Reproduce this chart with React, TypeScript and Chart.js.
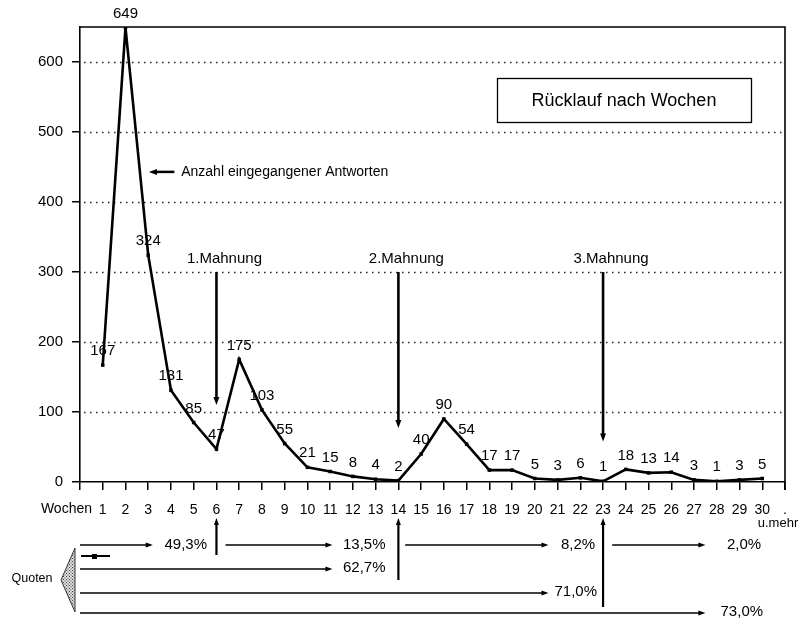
import { useEffect, useRef } from 'react';
import { Chart, registerables } from 'chart.js';

Chart.register(...registerables);

const weeks = [1, 2, 3, 4, 5, 6, 7, 8, 9, 10, 11, 12, 13, 14, 15, 16, 17, 18, 19, 20, 21, 22, 23, 24, 25, 26, 27, 28, 29, 30];
const responses = [167, 649, 324, 131, 85, 47, 175, 103, 55, 21, 15, 8, 4, 2, 40, 90, 54, 17, 17, 5, 3, 6, 1, 18, 13, 14, 3, 1, 3, 5];
const yTickValues = [0, 100, 200, 300, 400, 500, 600];
const xTickValues = [0, ...weeks, 31];
const reminderWeeks = [6, 14, 23];
const reminderLabels = ['1.Mahnung', '2.Mahnung', '3.Mahnung'];
const reminderArrowEnds = [110, 77, 58];
const phaseQuotas = ['49,3%', '13,5%', '8,2%', '2,0%'];
const cumulativeQuotas = ['62,7%', '71,0%', '73,0%'];

const FONT = '"Liberation Sans", Arial, Helvetica, sans-serif';

function arrow(ctx: CanvasRenderingContext2D, x1: number, y1: number, x2: number, y2: number, lw: number, head = 7, hw = 3) {
  const ang = Math.atan2(y2 - y1, x2 - x1);
  const c = Math.cos(ang), s = Math.sin(ang);
  ctx.lineWidth = lw;
  ctx.beginPath();
  ctx.moveTo(x1, y1);
  ctx.lineTo(x2 - c * head * 0.7, y2 - s * head * 0.7);
  ctx.stroke();
  ctx.beginPath();
  ctx.moveTo(x2, y2);
  ctx.lineTo(x2 - head * c + hw * s, y2 - head * s - hw * c);
  ctx.lineTo(x2 - head * c - hw * s, y2 - head * s + hw * c);
  ctx.closePath();
  ctx.fill();
}

const annotations = {
  id: 'annotations',
  beforeDatasetsDraw(chart: any) {
    const { ctx, chartArea: a, scales } = chart;
    const y = scales.y;
    ctx.save();
    ctx.strokeStyle = '#222';
    ctx.lineWidth = 1.3;
    ctx.setLineDash([1.5, 4.5]);
    yTickValues.filter((v) => v > 0).forEach((v) => {
      const py = Math.round(y.getPixelForValue(v)) + 0.5;
      ctx.beginPath();
      ctx.moveTo(a.left + 4, py);
      ctx.lineTo(a.right, py);
      ctx.stroke();
    });
    ctx.setLineDash([]);
    ctx.strokeStyle = '#000';
    ctx.lineWidth = 1.6;
    ctx.beginPath();
    ctx.moveTo(a.left, a.top);
    ctx.lineTo(a.right, a.top);
    ctx.lineTo(a.right, a.bottom + 8);
    ctx.stroke();
    ctx.restore();
  },
  afterDraw(chart: any) {
    const { ctx, chartArea: a, scales } = chart;
    const x = scales.x, y = scales.y;
    const px = (v: number) => x.getPixelForValue(v);
    const py = (v: number) => y.getPixelForValue(v);
    ctx.save();
    ctx.fillStyle = '#000';
    ctx.strokeStyle = '#000';
    ctx.textBaseline = 'middle';

    // data labels
    ctx.font = `15px ${FONT}`;
    ctx.textAlign = 'center';
    weeks.forEach((w, i) => {
      ctx.fillText(String(responses[i]), px(w), py(responses[i]) - 14);
    });

    // legend box
    const bx = a.right - 288, by = a.top + 51;
    ctx.lineWidth = 1.3;
    ctx.strokeRect(bx + 0.5, by + 0.5, 254, 44);
    ctx.font = `18px ${FONT}`;
    ctx.fillText('Rücklauf nach Wochen', bx + 127, by + 23);

    // series note arrow
    arrow(ctx, px(4.15), py(443), px(3.03), py(443), 2.5, 8, 3);
    ctx.font = `14px ${FONT}`;
    ctx.textAlign = 'left';
    ctx.fillText('Anzahl eingegangener Antworten', px(4.45), py(443));

    // reminders
    ctx.textAlign = 'center';
    ctx.font = `15px ${FONT}`;
    reminderWeeks.forEach((w, i) => {
      const xx = px(w);
      ctx.fillText(reminderLabels[i], xx + 8, py(300) - 13);
      arrow(ctx, xx, py(300), xx, py(reminderArrowEnds[i]), 2.6, 8, 3);
    });

    // bottom section
    const b = a.bottom;
    ctx.font = `14px ${FONT}`;
    ctx.textAlign = 'right';
    ctx.fillText('Wochen', a.left + 12, b + 27);
    ctx.textAlign = 'center';
    ctx.font = `13px ${FONT}`;
    ctx.fillText('u.mehr', px(31) - 7, b + 41);

    // vertical arrows up
    const vBottoms = [73, 98, 125];
    reminderWeeks.forEach((w, i) => {
      const xx = px(w);
      arrow(ctx, xx, b + vBottoms[i], xx, b + 36, 2.2, 7, 2.5);
    });

    // quota rows
    const row1 = b + 63, row2 = b + 87, row3 = b + 111, row4 = b + 131;
    ctx.font = `15px ${FONT}`;
    const seg = [
      [0, 3.2, 4.65],
      [6.4, 11.1, 12.5],
      [14.3, 20.6, 21.9],
      [23.4, 27.5, 29.2],
    ];
    seg.forEach((s, i) => {
      arrow(ctx, s[0] === 0 ? a.left : px(s[0]), row1, px(s[1]), row1, 1.6, 7, 2.5);
      ctx.fillText(phaseQuotas[i], px(s[2]), row1);
    });
    const cum = [
      [row2, 11.1, 12.5],
      [row3, 20.6, 21.8],
      [row4, 27.5, 29.1],
    ];
    cum.forEach((s, i) => {
      arrow(ctx, a.left, s[0], px(s[1]), s[0], 1.6, 7, 2.5);
      ctx.fillText(cumulativeQuotas[i], px(s[2]), s[0] - 1);
    });

    // small legend marker
    ctx.lineWidth = 2;
    ctx.beginPath();
    ctx.moveTo(a.left + 1, b + 74);
    ctx.lineTo(a.left + 30, b + 74);
    ctx.stroke();
    ctx.fillRect(a.left + 12, b + 72, 5, 5);

    // Quoten + stippled triangle
    ctx.font = `12.5px ${FONT}`;
    ctx.textAlign = 'center';
    ctx.fillText('Quoten', 32, b + 97);
    const pc = document.createElement('canvas');
    pc.width = 3; pc.height = 3;
    const pctx = pc.getContext('2d')!;
    pctx.fillStyle = '#ddd';
    pctx.fillRect(0, 0, 3, 3);
    pctx.fillStyle = '#444';
    pctx.fillRect(0, 0, 1, 1);
    pctx.fillRect(1.5, 1.5, 1, 1);
    const pat = ctx.createPattern(pc, 'repeat');
    ctx.beginPath();
    ctx.moveTo(61, b + 98);
    ctx.lineTo(75, b + 66);
    ctx.lineTo(75, b + 130);
    ctx.closePath();
    if (pat) ctx.fillStyle = pat;
    ctx.fill();
    ctx.lineWidth = 1;
    ctx.strokeStyle = '#333';
    ctx.stroke();

    ctx.restore();
  },
};

export default function App() {
  const ref = useRef<HTMLCanvasElement>(null);
  useEffect(() => {
    if (!ref.current) return;
    const chart = new Chart(ref.current, {
      type: 'line',
      data: {
        datasets: [
          {
            data: weeks.map((w, i) => ({ x: w, y: responses[i] })),
            borderColor: '#000',
            backgroundColor: '#000',
            borderWidth: 2.6,
            pointStyle: 'rect',
            pointRadius: 2.5,
            pointBorderWidth: 0,
            tension: 0,
          },
        ],
      },
      options: {
        animation: false,
        responsive: false,
        events: [],
        layout: { padding: { left: 0, right: 26, top: 27, bottom: 0 } },
        plugins: { legend: { display: false }, tooltip: { enabled: false } },
        scales: {
          x: {
            type: 'linear',
            min: 0,
            max: 31,
            afterBuildTicks: (s: any) => {
              s.ticks = xTickValues.map((v) => ({ value: v }));
            },
            afterFit: (s: any) => {
              s.height = 137;
            },
            ticks: {
              autoSkip: false,
              maxRotation: 0,
              padding: 12,
              color: '#000',
              font: { family: FONT, size: 14 },
              callback: (v: any) => (v === 0 ? '' : v === 31 ? '.' : String(v)),
            },
            grid: { drawOnChartArea: false, drawTicks: true, tickLength: 8, color: '#000', lineWidth: 1.5 },
            border: { display: true, color: '#000', width: 1.6 },
          },
          y: {
            min: 0,
            max: 650,
            afterBuildTicks: (s: any) => {
              s.ticks = yTickValues.map((v) => ({ value: v }));
            },
            afterFit: (s: any) => {
              s.width = 80;
            },
            ticks: {
              padding: 9,
              color: '#000',
              font: { family: FONT, size: 15 },
            },
            grid: { drawOnChartArea: false, drawTicks: true, tickLength: 8, color: '#000', lineWidth: 1.5 },
            border: { display: true, color: '#000', width: 1.6 },
          },
        },
      },
      plugins: [annotations],
    });
    return () => chart.destroy();
  }, []);
  return (
    <div style={{ position: 'absolute', left: 0, top: 0, width: 811, height: 619, background: '#fff' }}>
      <canvas ref={ref} width={811} height={619} style={{ display: 'block' }} />
    </div>
  );
}
